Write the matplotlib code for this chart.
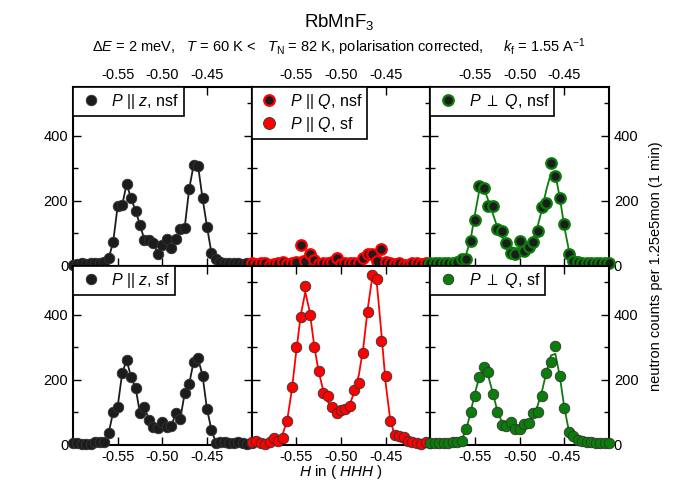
import numpy as np
import matplotlib
matplotlib.use("Agg")
import matplotlib.pyplot as plt

plt.rcParams['font.family'] = ['Liberation Sans', 'DejaVu Sans']
plt.rcParams['mathtext.fontset'] = 'custom'
plt.rcParams['mathtext.rm'] = 'Liberation Sans'
plt.rcParams['mathtext.it'] = 'Liberation Sans:italic'
plt.rcParams['axes.unicode_minus'] = False

# scan positions H in (HHH)
h = [-0.600, -0.595, -0.590, -0.585, -0.580, -0.575, -0.570, -0.565, -0.560, -0.555,
     -0.550, -0.545, -0.540, -0.535, -0.530, -0.525, -0.520, -0.515, -0.510, -0.505,
     -0.500, -0.495, -0.490, -0.485, -0.480, -0.475, -0.470, -0.465, -0.460, -0.455,
     -0.450, -0.445, -0.440, -0.435, -0.430, -0.425, -0.420, -0.415, -0.410, -0.405,
     -0.400]

# P || z
z_nsf = [3, 5, 8, 6, 8, 8, 10, 13, 24, 75,
         185, 187, 252, 208, 170, 126, 80, 81, 72, 37,
         66, 84, 54, 82, 115, 118, 236, 310, 307, 208,
         121, 39, 20, 12, 10, 10, 10, 8, 5, 8, 5]
z_sf = [7, 5, 3, 3, 3, 8, 10, 10, 38, 102,
        118, 220, 261, 208, 176, 97, 116, 77, 56, 51,
        72, 56, 58, 97, 79, 159, 187, 256, 266, 213,
        110, 46, 7, 10, 10, 5, 5, 10, 5, 3, 5]

# P || Q
q_nsf = [8, 6, 8, 8, 4, 6, 10, 13, 5, 8,
         13, 63, 16, 37, 19, 6, 8, 8, 13, 24,
         6, 8, 10, 8, 10, 24, 37, 37, 15, 51,
         13, 8, 6, 8, 4, 4, 8, 8, 6, 8, 6]
q_nsf_fit = [5, 5, 5, 5, 5, 5, 5, 5, 8, 12,
             20, 28, 32, 28, 20, 14, 10, 9, 9, 9,
             9, 10, 12, 16, 22, 30, 38, 40, 35, 25,
             15, 8, 5, 5, 5, 5, 5, 5, 5, 5, 5]
q_sf = [10, 12, 5, 3, 8, 21, 12, 22, 75, 178,
        300, 393, 489, 400, 302, 226, 161, 151, 116, 99,
        108, 111, 120, 169, 192, 284, 410, 523, 510, 321,
        212, 75, 31, 29, 25, 12, 8, 5, 3, 8, 5]
q_sf_fit = [5, 5, 5, 5, 5, 8, 15, 35, 80, 170,
            290, 400, 470, 410, 305, 225, 170, 135, 110, 95,
            95, 105, 125, 165, 215, 300, 420, 515, 500, 350,
            190, 80, 30, 12, 6, 5, 5, 5, 5, 5, 5]

# P perp Q
p_nsf = [8, 8, 8, 8, 8, 10, 13, 22, 22, 78,
         142, 246, 239, 185, 185, 113, 106, 72, 41, 38,
         76, 47, 57, 75, 108, 181, 195, 316, 275, 208,
         128, 36, 14, 13, 10, 8, 8, 8, 8, 8, 8]
p_nsf_fit = [5, 5, 5, 5, 5, 5, 8, 15, 35, 80,
             160, 235, 240, 200, 160, 120, 90, 70, 58, 55,
             55, 58, 68, 85, 120, 175, 235, 285, 280, 210,
             120, 50, 18, 8, 5, 5, 5, 5, 5, 5, 5]
p_sf = [5, 5, 5, 5, 5, 8, 10, 12, 48, 100,
        151, 210, 241, 223, 157, 100, 62, 58, 70, 48,
        48, 64, 67, 97, 101, 149, 220, 254, 305, 212,
        115, 39, 29, 15, 12, 10, 8, 5, 5, 5, 5]
p_sf_fit = [5, 5, 5, 5, 5, 5, 8, 18, 45, 100,
            160, 210, 228, 210, 160, 105, 72, 58, 52, 50,
            52, 58, 70, 90, 120, 165, 225, 275, 280, 210,
            115, 45, 15, 7, 5, 5, 5, 5, 5, 5, 5]

dark = '#1c1c1c'
red = '#ff0000'
green = '#0a7d0a'

fig, axs = plt.subplots(2, 3, figsize=(6.78, 4.83), dpi=100, sharex=True, sharey=True)
plt.subplots_adjust(left=0.1077, right=0.8982, top=0.8199, bottom=0.0787, wspace=0, hspace=0)

ms = 7.6

def draw(ax, y, fit, col, fc, ec, mew, lab):
    ax.plot(h, fit, '-', color=col, lw=1.3, zorder=2)
    ax.plot(h, y, 'o', ms=ms, mfc=fc, mec=ec, mew=mew, label=lab, zorder=3, clip_on=False)

# left column (line joins the points)
draw(axs[0, 0], z_nsf, z_nsf, dark, dark, '#333333', 0.6, r'$P$ || $z$, nsf')
draw(axs[1, 0], z_sf, z_sf, dark, dark, '#333333', 0.6, r'$P$ || $z$, sf')

# middle column
draw(axs[0, 1], q_nsf, q_nsf_fit, red, dark, red, 1.6, r'$P$ || $Q$, nsf')
axs[0, 1].plot([], [], 'o', ms=ms + 1, mfc=red, mec='#333333', mew=0.6, label=r'$P$ || $Q$, sf')
draw(axs[1, 1], q_sf, q_sf_fit, red, red, '#333333', 0.6, None)

# right column
draw(axs[0, 2], p_nsf, p_nsf_fit, green, dark, green, 1.6, r'$P$ $\perp$ $Q$, nsf')
draw(axs[1, 2], p_sf, p_sf_fit, green, green, '#333333', 0.6, r'$P$ $\perp$ $Q$, sf')

for r in range(2):
    for c in range(3):
        ax = axs[r, c]
        ax.set_xlim(-0.6, -0.4)
        ax.set_ylim(0, 550)
        ax.set_xticks([-0.55, -0.50, -0.45])
        ax.set_yticks([0, 200, 400])
        ax.set_yticks([100, 300, 500], minor=True)
        for s in ax.spines.values():
            s.set_linewidth(1.5)
        ax.tick_params(which='both', direction='in', top=True, bottom=True, left=True, right=True,
                       width=1, labelsize=10.5, labelleft=(c == 0), labelright=(c == 2),
                       labeltop=(r == 0), labelbottom=(r == 1))
        ax.tick_params(which='major', length=5.5)
        ax.tick_params(which='minor', length=3.5)
        ax.xaxis.set_major_formatter(matplotlib.ticker.FormatStrFormatter('%.2f'))
        if r == 1 and c == 1:
            continue
        leg = ax.legend(loc='upper left', borderaxespad=0, fontsize=11.5, fancybox=False,
                        edgecolor='black', framealpha=1, handletextpad=0.5, borderpad=0.3,
                        labelspacing=0.25, handlelength=1.6)
        leg.get_frame().set_linewidth(1.2)

fig.text(0.5, 0.955, r'RbMnF$_3$', ha='center', va='center', fontsize=13.5)
fig.text(0.5, 0.903, r'$\Delta E$ = 2 meV,   $T$ = 60 K <   $T_\mathrm{N}$ = 82 K, polarisation corrected,'
         r'     $k_\mathrm{f}$ = 1.55 A$^{-1}$', ha='center', va='center', fontsize=10.5)
fig.text(0.503, 0.022, r'$H$ in ( $HHH$ )', ha='center', va='center', fontsize=11)
fig.text(0.968, 0.449, 'neutron counts per 1.25e5mon (1 min)', rotation=90, ha='center',
         va='center', fontsize=10.5)

fig.savefig('out.png', dpi=100)
